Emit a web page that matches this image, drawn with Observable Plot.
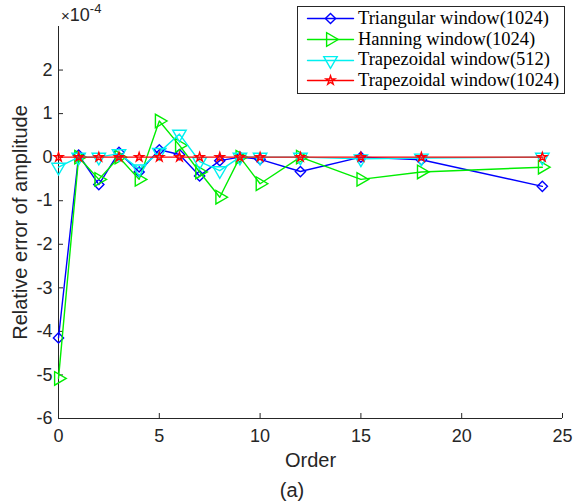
<!DOCTYPE html>
<html>
<head>
<meta charset="utf-8">
<script src="https://cdn.jsdelivr.net/npm/d3@7"></script>
<script src="https://cdn.jsdelivr.net/npm/@observablehq/plot@0.6"></script>
<style>
  html, body { margin: 0; padding: 0; background: #fff; }
  #wrap { position: relative; width: 574px; height: 502px; overflow: hidden; }
  #exp { position: absolute; left: 61px; top: 2px; font: 18px "Liberation Sans", Arial, sans-serif; color: #262626; }
  #exp .x { font-size: 15px; }
  #exp sup { font-size: 13px; position: relative; top: -1px; }
  #cap { position: absolute; left: 0; width: 584px; top: 479px; text-align: center; font: 20px "Liberation Sans", Arial, sans-serif; color: #262626; }
  #legend { position: absolute; left: 297px; top: 6px; width: 268px; height: 88px; border: 1px solid #262626; background: #fff; box-sizing: border-box; padding-top: 1px; }
  .row { height: 20.7px; display: flex; align-items: center; font: 18.5px "Liberation Serif", "Times New Roman", serif; color: #000; white-space: nowrap; }
  .row svg { margin-left: 9px; margin-right: 5px; flex: none; }
</style>
</head>
<body>
<div id="wrap"></div>
<script>
// ---- data (units of 1e-4) ----
const orders = [0, 1, 2, 3, 4, 5, 6, 7, 8, 9, 10, 12, 15, 18, 24];
const triangular1024  = [-4.15, 0.05, -0.63, 0.11, -0.34, 0.17, 0.06, -0.43, -0.08, 0.00, -0.05, -0.33, 0.00, -0.06, -0.67];
const hanning1024     = [-5.08, 0.00, -0.51, 0.00, -0.51, 0.83, 0.27, -0.34, -0.92, 0.00, -0.61, 0.00, -0.51, -0.34, -0.23];
const trapezoidal512  = [-0.23, 0.00, 0.00, 0.08, -0.27, 0.11, 0.53, -0.10, -0.31, 0.00, 0.00, 0.00, -0.04, -0.02, 0.00];
const trapezoidal1024 = [0, 0, 0, 0, 0, 0, 0, 0, 0, 0, 0, 0, 0, 0, 0];

const seriesNames = ["Triangular window(1024)", "Hanning window(1024)", "Trapezoidal window(512)", "Trapezoidal window(1024)"];
const seriesValues = [triangular1024, hanning1024, trapezoidal512, trapezoidal1024];
const seriesColors = ["#0000ff", "#00ee00", "#00f0f0", "#ff0000"];
const seriesSymbols = ["diamond2", "triangle", "triangle", "star"];
const seriesRotate = [0, 90, 180, 0];
const seriesR = [4.6, 5, 5, 2.8];

const xTicks = [0, 5, 10, 15, 20, 25];
const yTicks = [-6, -5, -4, -3, -2, -1, 0, 1, 2];
const xLabel = "Order";
const yLabel = "Relative error of amplitude";

const seriesData = seriesValues.map((vals, i) => orders.map((o, j) => ({order: o, value: vals[j], series: seriesNames[i]})));

const marks = [];
seriesData.forEach((d, i) => {
  marks.push(Plot.line(d, {x: "order", y: "value", stroke: seriesColors[i], strokeWidth: 1.4}));
  marks.push(Plot.dot(d, {x: "order", y: "value", stroke: seriesColors[i], fill: "none", strokeWidth: 1.4,
    symbol: seriesSymbols[i], r: seriesR[i], rotate: seriesRotate[i]}));
});

const chart = Plot.plot({
  width: 574, height: 502,
  marginLeft: 58, marginRight: 12, marginTop: 26, marginBottom: 84,
  style: {fontFamily: '"Liberation Sans", Arial, sans-serif', fontSize: "18px", color: "#262626", background: "transparent"},
  x: {domain: [0, 25]},
  y: {domain: [-6, 3]},
  marks: [
    Plot.ruleY([-6], {stroke: "#262626", strokeWidth: 1}),
    Plot.ruleX([0], {stroke: "#262626", strokeWidth: 1}),
    Plot.axisX({ticks: xTicks, tickSize: -5, tickPadding: 16, tickFormat: d => String(d), fontSize: 18,
      label: xLabel, labelAnchor: "center", labelArrow: "none", labelOffset: 48}),
    Plot.axisY({ticks: yTicks, tickSize: -5, tickPadding: 11, tickFormat: d => String(d), fontSize: 18,
      label: yLabel, labelAnchor: "center", labelArrow: "none", labelOffset: 46}),
    ...marks
  ]
});
// axis titles slightly larger than tick labels
chart.querySelectorAll("g[aria-label='x-axis label'] text, g[aria-label='y-axis label'] text").forEach(t => t.style.fontSize = "20px");
document.getElementById("wrap").appendChild(chart);

// exponent annotation
const exp = document.createElement("div");
exp.id = "exp";
exp.innerHTML = "<span class='x'>×</span>10<sup>-4</sup>";
document.getElementById("wrap").appendChild(exp);

// caption
const cap = document.createElement("div");
cap.id = "cap";
cap.textContent = "(a)";
document.getElementById("wrap").appendChild(cap);

// legend
const legend = document.createElement("div");
legend.id = "legend";
seriesNames.forEach((name, i) => {
  const row = document.createElement("div");
  row.className = "row";
  const sw = Plot.plot({
    width: 46, height: 14, margin: 0,
    x: {domain: [0, 2], axis: null}, y: {domain: [0, 1], axis: null},
    marks: [
      Plot.line([{x: 0, y: 0.5}, {x: 2, y: 0.5}], {x: "x", y: "y", stroke: seriesColors[i], strokeWidth: 1.4}),
      Plot.dot([{x: 1, y: 0.5}], {x: "x", y: "y", stroke: seriesColors[i], fill: "none", strokeWidth: 1.4,
        symbol: seriesSymbols[i], r: seriesR[i], rotate: seriesRotate[i]})
    ]
  });
  sw.style.overflow = "visible";
  row.appendChild(sw);
  const t = document.createElement("span");
  t.textContent = name;
  row.appendChild(t);
  legend.appendChild(row);
});
document.getElementById("wrap").appendChild(legend);
</script>
</body>
</html>
